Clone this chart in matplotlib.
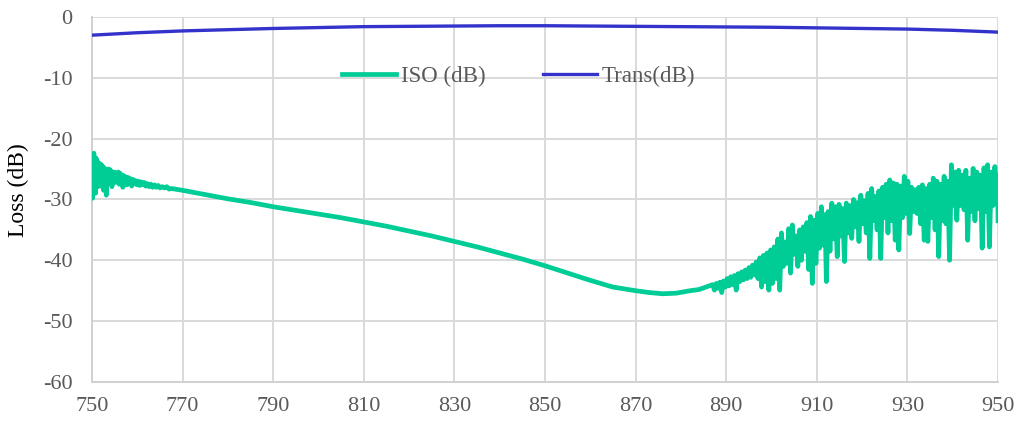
import matplotlib.pyplot as plt

# Trans (dB) curve
trans_nm = [750, 760, 770, 780, 790, 800, 810, 820, 830, 840, 850,
            860, 870, 880, 890, 900, 910, 920, 930, 940, 950]
trans_db = [-3.0, -2.6, -2.3, -2.1, -1.9, -1.75, -1.6, -1.55, -1.5, -1.45, -1.45,
            -1.5, -1.55, -1.6, -1.65, -1.7, -1.8, -1.9, -2.0, -2.2, -2.5]

# ISO (dB) - noisy start, smooth middle, noisy tail
iso_nm = [
    750.0, 750.1, 750.2, 750.3, 750.4, 750.5, 750.6, 750.75, 750.9, 751.05,
    751.2, 751.35, 751.5, 751.65, 751.8, 751.95, 752.1, 752.25, 752.4, 752.55,
    752.7, 752.85, 753.0, 753.15, 753.3, 753.45, 753.6, 753.75, 753.9, 754.05,
    754.2, 754.4, 754.6, 754.8, 755.0, 755.2, 755.4, 755.6, 755.8, 756.0,
    756.2, 756.4, 756.6, 756.8, 757.0, 757.25, 757.5, 757.75, 758.0, 758.25,
    758.5, 758.75, 759.0, 759.3, 759.6, 759.9, 760.2, 760.5, 760.8, 761.15,
    761.5, 761.85, 762.2, 762.6, 763.0, 763.4, 763.8, 764.2, 764.6, 765.0,
    765.5, 766.0, 766.5, 767.0, 767.5,
    770, 775, 780, 785, 790, 795, 800, 805, 810, 815, 820, 825, 830, 835,
    840, 845, 850, 855, 860, 865, 870, 873, 876, 879, 882, 884, 885.5,
    887.0, 887.4, 887.8, 888.2, 888.6, 889.0, 889.4, 889.8, 890.2, 890.6,
    891.0, 891.4, 891.8, 892.2, 892.6, 893.0, 893.4, 893.8, 894.2, 894.6,
    895.0, 895.4, 895.8, 896.2, 896.6, 897.0, 897.4, 897.8, 898.2, 898.6,
    899.0, 899.4, 899.8, 900.2, 900.6, 901.0, 901.4, 901.8, 902.2, 902.6,
    903.0, 903.4, 903.8, 904.2, 904.6, 905.0, 905.4, 905.8, 906.2, 906.6,
    907.0, 907.4, 907.8, 908.2, 908.6, 909.0, 909.4, 909.8, 910.2, 910.6,
    911.0, 911.4, 911.8, 912.1, 912.5, 912.9, 913.3, 913.7, 914.1, 914.5,
    914.9, 915.3, 915.7, 916.1, 916.5, 916.9, 917.3, 917.7, 918.1, 918.5,
    918.9, 919.3, 919.7, 920.1, 920.5, 920.9, 921.3, 921.7, 922.1, 922.5,
    922.9, 923.3, 923.7, 924.1, 924.5, 924.9, 925.3, 925.7, 926.1, 926.5,
    926.9, 927.3, 927.7, 928.1, 928.5, 928.9, 929.3, 929.7, 930.1, 930.5,
    930.9, 931.3, 931.7, 932.1, 932.5, 932.9, 933.3, 933.7, 934.1, 934.5,
    934.9, 935.3, 935.7, 936.1, 936.5, 936.9, 937.3, 937.7, 938.1, 938.5,
    938.9, 939.3, 939.7, 940.1, 940.5, 940.9, 941.3, 941.7, 942.1, 942.5,
    942.9, 943.3, 943.7, 944.1, 944.5, 944.9, 945.3, 945.7, 946.1, 946.5,
    946.9, 947.3, 947.7, 948.1, 948.5, 948.9, 949.3, 949.7, 949.9, 950.0,
]
iso_db = [
    -24.5, -29.8, -23.0, -27.5, -22.4, -28.2, -23.6, -29.0, -23.2, -26.8,
    -23.8, -27.9, -24.0, -26.5, -24.2, -27.8, -24.3, -26.9, -24.6, -28.5,
    -24.8, -26.6, -25.0, -29.3, -25.2, -26.8, -25.0, -27.4, -25.1, -26.6,
    -25.3, -27.9, -25.6, -26.8, -25.5, -27.2, -25.8, -26.9, -25.5, -27.5,
    -25.7, -27.0, -26.0, -28.0, -26.1, -27.3, -26.3, -27.6, -26.4, -27.2,
    -26.6, -27.8, -26.7, -27.4, -26.9, -27.6, -27.0, -27.7, -27.1, -27.6,
    -27.2, -27.8, -27.4, -27.9, -27.5, -28.0, -27.6, -28.0, -27.7, -28.1,
    -27.9, -28.1, -27.9, -28.3, -28.2,
    -28.5, -29.2, -29.9, -30.5, -31.2, -31.8, -32.4, -33.0, -33.7, -34.4,
    -35.2, -36.0, -36.9, -37.8, -38.8, -39.8, -40.9, -42.1, -43.3, -44.4,
    -45.0, -45.3, -45.5, -45.4, -45.0, -44.8, -44.4,
    -44.0, -44.9, -43.8, -44.6, -43.6, -45.3, -43.4, -44.4, -43.0, -44.2,
    -42.7, -44.0, -42.5, -44.9, -42.2, -43.5, -41.9, -43.2, -41.6, -43.0,
    -41.2, -42.8, -40.8, -42.4, -40.3, -43.0, -39.6, -44.4, -39.2, -43.5,
    -38.8, -44.9, -38.3, -43.8, -37.8, -43.0, -36.5, -44.9, -35.5, -41.0,
    -37.0, -40.5, -34.8, -42.1, -34.2, -39.0, -36.0, -41.0, -35.0, -40.0,
    -34.5, -38.5, -33.8, -41.5, -32.8, -43.8, -33.4, -40.5, -32.3, -38.0,
    -31.2, -37.5, -32.5, -43.5, -32.0, -38.5, -30.6, -36.5, -31.2, -39.4,
    -30.8, -36.0, -31.5, -40.2, -30.6, -35.5, -31.0, -36.4, -30.0, -34.5,
    -30.5, -36.9, -29.3, -34.0, -30.2, -35.5, -29.0, -39.7, -28.2, -33.5,
    -29.5, -35.0, -28.6, -39.7, -28.0, -33.0, -27.5, -35.5, -26.8, -33.5,
    -27.3, -36.7, -27.5, -38.3, -27.8, -33.0, -26.2, -32.3, -27.0, -35.6,
    -28.0, -32.0, -28.4, -32.3, -28.0, -34.0, -27.6, -36.7, -28.2, -36.9,
    -27.5, -33.0, -26.5, -35.0, -27.0, -39.4, -27.5, -33.5, -26.2, -34.0,
    -27.0, -40.0, -24.3, -31.0, -25.5, -33.4, -25.2, -31.0, -26.0, -31.7,
    -25.2, -36.7, -26.5, -32.0, -24.9, -33.5, -25.5, -31.5, -26.0, -38.0,
    -24.8, -32.0, -24.3, -37.8, -25.5, -31.0, -24.6, -30.5, -26.0, -33.5,
]

x_ticks = list(range(750, 951, 20))
y_ticks = list(range(-60, 1, 10))

plt.rcParams["font.family"] = ["Liberation Serif", "DejaVu Serif"]
plt.rcParams["axes.unicode_minus"] = False

fig = plt.figure(figsize=(10.18, 4.26), dpi=100)
ax = fig.add_axes([0.0904, 0.1033, 0.890, 0.857])

ax.plot(iso_nm, iso_db, color="#00CC96", linewidth=3.4, label="ISO (dB)", zorder=3)
ax.plot(trans_nm, trans_db, color="#3333CC", linewidth=2.4, label="Trans(dB)", zorder=3)

ax.set_xlim(750, 950)
ax.set_ylim(-60, 0)
ax.set_xticks(x_ticks)
ax.set_yticks(y_ticks)
ax.grid(True, color="#D9D9D9", linewidth=1.4)
ax.set_axisbelow(True)
ax.tick_params(axis="both", length=0, labelsize=16, labelcolor="#595959")
ax.tick_params(axis="y", pad=14)
ax.tick_params(axis="x", pad=11)
for side, spine in ax.spines.items():
    if side in ("top", "right"):
        spine.set_visible(False)
    else:
        spine.set_color("#D0D0D0")
        spine.set_linewidth(1.4)

ax.set_ylabel("Loss (dB)", fontsize=17, color="black")
ax.yaxis.set_label_coords(-0.069, 0.526)

ax.legend(loc="center", bbox_to_anchor=(0.4708, 0.836), ncol=2, frameon=False,
          fontsize=16.5, labelcolor="#595959", handlelength=2.36,
          handletextpad=0.22, columnspacing=2.5)

fig.savefig("out.png")
